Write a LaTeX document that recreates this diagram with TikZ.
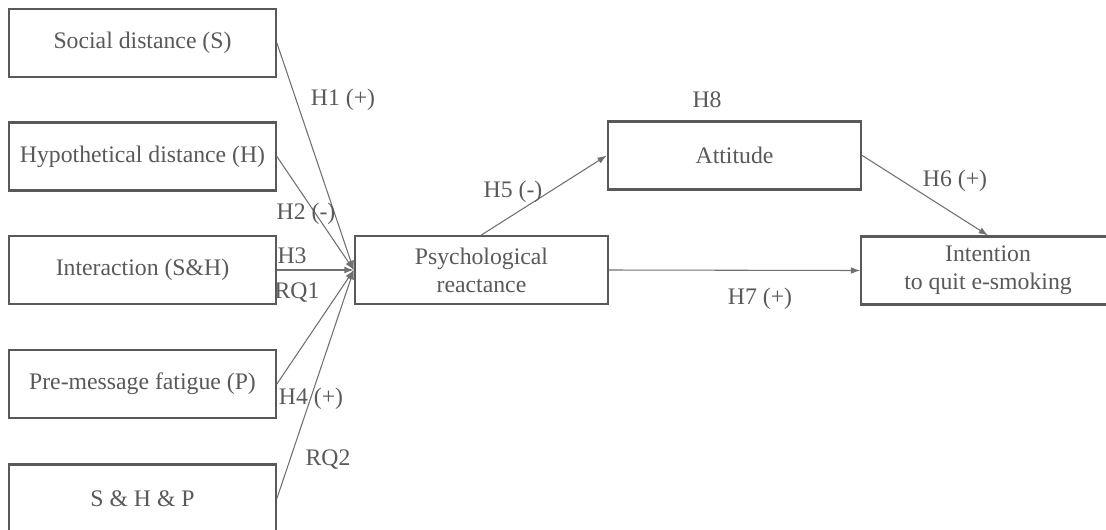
\documentclass[tikz,border=0pt]{standalone}
\usepackage{fontspec}
\setmainfont{Liberation Serif}
\usepackage{xcolor}
\usetikzlibrary{arrows.meta}

\definecolor{boxgray}{HTML}{595959}
\definecolor{linegray}{HTML}{707070}
\definecolor{textgray}{HTML}{595959}

\tikzset{
  varbox/.style={draw=boxgray, line width=1.6pt, fill=white, text=textgray,
    minimum width=200pt, minimum height=51pt, inner sep=0pt, align=center,
    font=\fontsize{17.8}{21}\selectfont},
  hyp/.style={text=textgray, inner sep=0pt, font=\fontsize{17.8}{21}\selectfont},
  link/.style={color=linegray, line width=0.8pt, -{Latex[length=7pt,width=5pt]}}
}

\begin{document}
\begin{tikzpicture}[x=0.75pt, y=-0.75pt]
		\useasboundingbox (0,0) rectangle (1106,529);
		% predictors
		\node[varbox] (S) at (142.5,43) {Social distance (S)};
		\node[varbox] (H) at (142.5,156.5) {Hypothetical distance (H)};
		\node[varbox] (SH) at (142.5,270) {Interaction (S\&H)};
		\node[varbox] (P) at (142.5,384) {Pre-message fatigue (P)};
		\node[varbox] (SHP) at (142.5,498.5) {S \& H \& P};
		% mediators and outcome
		\node[varbox, minimum width=190pt] (R) at (481.5,270) {Psychological\\reactance};
		\node[varbox, minimum width=190pt] (At) at (734.5,155.5) {Attitude};
		\node[varbox, minimum width=190pt] (In) at (988,270.5) {Intention\\to quit e-smoking};
		%
		\path[link]
		(S.east) edge (R.west)
		(H.east) edge (R.west)
		(SH.east) edge (R.west)
		(P.east) edge (R.west)
		(SHP.east) edge (R.west)
		(R.north) edge (At.west)
		(At.east) edge (In.north)
		(R.east) edge (In.west);
		%
		\node[hyp] (h1) at (343,100) {H1 (+)};
		\node[hyp] (h2) at (306,214) {H2 (-)};
		\node[hyp] (h3) at (292,256) {H3};
		\node[hyp] (rq1) at (297,293) {RQ1};
		\node[hyp] (h4) at (311,399) {H4 (+)};
		\node[hyp] (rq2) at (328,460) {RQ2};
		\node[hyp] (h5) at (513,192) {H5 (-)};
		\node[hyp] (h8) at (707,100) {H8};
		\node[hyp] (h6) at (955,181) {H6 (+)};
		\node[hyp] (h7) at (760,299) {H7 (+)};
\end{tikzpicture}
\end{document}
